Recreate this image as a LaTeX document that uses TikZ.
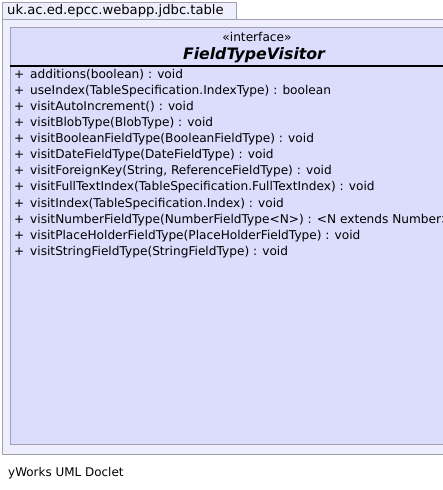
\documentclass[tikz,border=0pt]{standalone}
\usepackage{fontspec}
\setmainfont{DejaVu Sans}
\begin{document}
\begin{tikzpicture}[x=1bp,y=-1bp,
  pkgframe/.style={draw=pkgline,fill=pkgfill,line width=0.8bp},
  classbox/.style={draw=pkgline,fill=classfill,line width=0.8bp},
  member/.style={anchor=base west,inner sep=0pt,font=\fontsize{12.2}{14}\selectfont},
]
\definecolor{pkgline}{HTML}{A0A0B0}
\definecolor{pkgfill}{HTML}{EEEEFC}
\definecolor{classfill}{HTML}{DCDCFC}
\useasboundingbox (0,0) rectangle (443,490);
\begin{scope}
\clip (0,0) rectangle (443,490);
% package tab and body
\draw[pkgframe] (2,2) rectangle (236,19);
\draw[pkgframe] (2,19) rectangle (520,454);
\node[member,font=\fontsize{13.2}{15}\selectfont] (pkg) at (7,15) {uk.ac.ed.epcc.webapp.jdbc.table};
% interface box
\draw[classbox] (10,27) rectangle (510,444);
\draw[line width=2bp] (10,66.5) -- (510,66.5);
\node[inner sep=0pt,anchor=base,font=\fontsize{12.2}{14}\selectfont] (stereo) at (257,42) {«interface»};
\node[inner sep=0pt,anchor=base,font=\fontsize{15.8}{18}\selectfont\bfseries\itshape] (name) at (254,60) {FieldTypeVisitor};
\foreach \i/\t in {0/{additions(boolean) : void},
  1/{useIndex(TableSpecification.IndexType) : boolean},
  2/{visitAutoIncrement() : void},
  3/{visitBlobType(BlobType) : void},
  4/{visitBooleanFieldType(BooleanFieldType) : void},
  5/{visitDateFieldType(DateFieldType) : void},
  6/{visitForeignKey(String, ReferenceFieldType) : void},
  7/{visitFullTextIndex(TableSpecification.FullTextIndex) : void},
  8/{visitIndex(TableSpecification.Index) : void},
  9/{visitNumberFieldType(NumberFieldType<N>) : <N extends Number>},
  10/{visitPlaceHolderFieldType(PlaceHolderFieldType) : void},
  11/{visitStringFieldType(StringFieldType) : void}}
{
  \node[member] (m\i) at (14,79+16*\i) {+};
  \node[member] (t\i) at (30,79+16*\i) {\t};
}
\end{scope}
\node[member,font=\fontsize{12}{14}\selectfont] (foot) at (8,476) {yWorks UML Doclet};
\end{tikzpicture}
\end{document}
